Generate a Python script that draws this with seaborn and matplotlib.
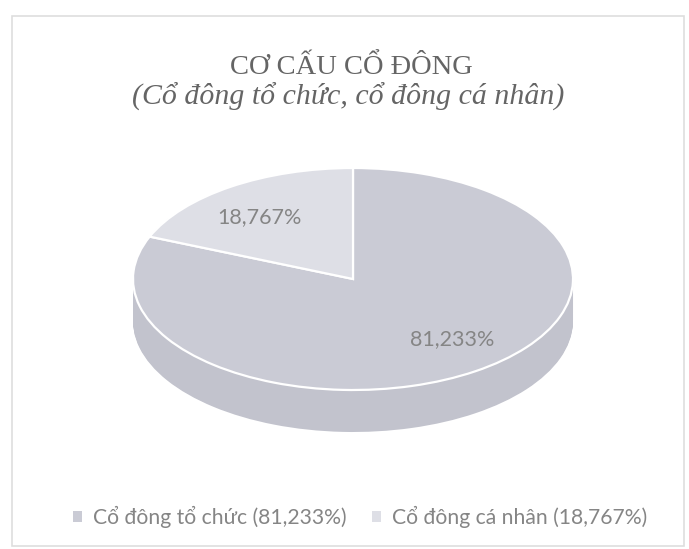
import matplotlib
matplotlib.use("Agg")
import matplotlib.pyplot as plt
import seaborn as sns
from matplotlib.patches import Rectangle, Patch

# ---- data ----
categories = ["Cổ đông tổ chức", "Cổ đông cá nhân"]
shares = [81.233, 18.767]
title_main = "CƠ CẤU CỔ ĐÔNG"
title_sub = "(Cổ đông tổ chức, cổ đông cá nhân)"

sns.set_theme(style="white")
plt.rcParams["font.family"] = ["Lato", "DejaVu Sans"]

top_colors = ["#cacbd5", "#dedfe6"]
side_colors = ["#c2c3cd", "#d2d3db"]

W, H = 689, 549
fig = plt.figure(figsize=(W / 100, H / 100), dpi=100)
ax = fig.add_axes([0, 0, 1, 1])

# pixel geometry of the pie (centre / radii), used only for the axes limits
cx, cy, rx, ry = 353, 279, 220, 111
depth = 42 / ry

def fmt(p):
    return f"{p:.3f}".replace(".", ",") + "%"

# side wall: stacked pies
n_layers = 40
for k in range(n_layers, 0, -1):
    off = depth * k / n_layers
    ax.pie(shares, startangle=90, counterclock=False, colors=side_colors,
           center=(0, -off), radius=1.0, wedgeprops=dict(linewidth=0),
           frame=True)
# top face
wedges, texts, autotexts = ax.pie(
    shares, startangle=90, counterclock=False, colors=top_colors,
    center=(0, 0), radius=1.0, autopct=fmt, pctdistance=0.78,
    wedgeprops=dict(linewidth=1.6, edgecolor="white"),
    textprops=dict(color="#858585", fontsize=15.5), frame=True)
ax.set_aspect("auto")
ax.set_xlim(-cx / rx, (W - cx) / rx)
ax.set_ylim(-(H - cy) / ry, cy / ry)
ax.axis("off")

# fine placement of the data labels
autotexts[0].set_position(((452 - cx) / rx, -(339 - cy) / ry))
autotexts[1].set_position(((259 - cx) / rx, -(217 - cy) / ry))

# frame
fig.patches.append(Rectangle((12 / W, 1 - 546 / H), (684 - 12) / W, (546 - 16) / H,
                             transform=fig.transFigure, fill=False,
                             edgecolor="#dedede", linewidth=1.2))

# titles
fig.text(351 / W, 1 - 67 / H, title_main, ha="center", va="center",
         family=["Liberation Serif", "DejaVu Serif"], fontsize=20.5, color="#656565")
fig.text(348 / W, 1 - 97 / H, title_sub, ha="center", va="center",
         family=["Liberation Serif", "DejaVu Serif"], style="italic",
         fontsize=21.5, color="#656565")

# legend
handles = [Patch(facecolor=c, edgecolor="none") for c in top_colors]
labels = [f"{c} ({fmt(v)})" for c, v in zip(categories, shares)]
fig.legend(handles, labels, loc="center", bbox_to_anchor=(360 / W, 1 - 517 / H),
           ncol=2, frameon=False, fontsize=15.2, labelcolor="#858585",
           handlelength=0.45, handleheight=0.45, handletextpad=0.5, columnspacing=1.2)

fig.savefig("out.png", dpi=100, facecolor="white")
